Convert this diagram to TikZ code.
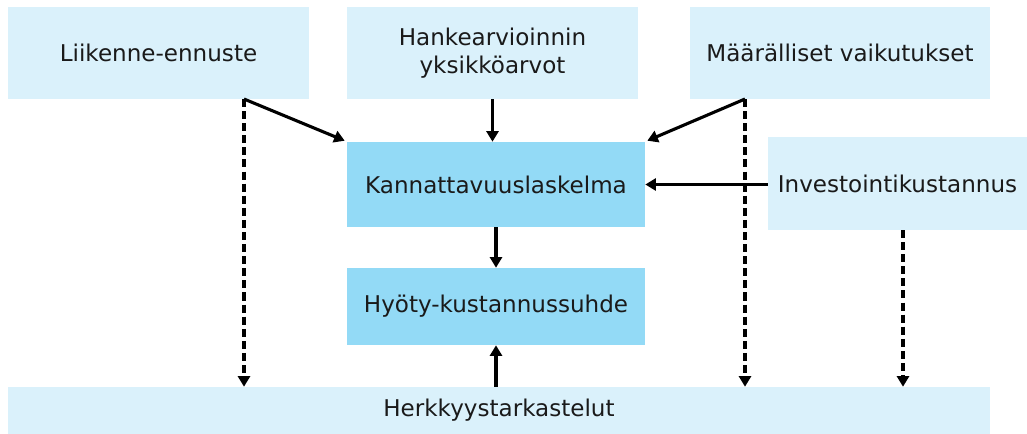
\documentclass[tikz,border=0pt]{standalone}
\usepackage{fontspec}
\setmainfont{DejaVu Sans}
\usetikzlibrary{calc,arrows.meta}
\definecolor{lightbox}{HTML}{DAF1FB}
\definecolor{darkbox}{HTML}{93DAF6}
\definecolor{textgray}{HTML}{1A1A1A}

\begin{document}
\begin{tikzpicture}[x=0.025cm,y=-0.025cm,
        box/.style={fill=lightbox,draw=none,text=textgray,align=center,inner sep=0pt,font=\fontsize{16.4}{19.5}\selectfont},
        mainbox/.style={box,fill=darkbox},
        solidarrow/.style={-{Triangle[width=8.5pt,length=7.5pt]},line width=2.2pt},
        dasharrow/.style={solidarrow,dash pattern=on 5.7pt off 2.9pt}]
        \useasboundingbox (0,0) rectangle (1027,434);
        \node[box,minimum width=7.525cm,minimum height=2.3cm] (liik) at (158.5,53) {Liikenne-ennuste};
        \node[box,minimum width=7.275cm,minimum height=2.3cm] (hank) at (492.5,53) {Hankearvioinnin\\yksikköarvot};
        \node[box,minimum width=7.5cm,minimum height=2.3cm] (maar) at (840,53) {Määrälliset vaikutukset};
        \node[mainbox,minimum width=7.45cm,minimum height=2.125cm] (kann) at (496,184.5) {Kannattavuuslaskelma};
        \node[box,minimum width=6.475cm,minimum height=2.325cm] (inv) at (897.5,183.5) {Investointikustannus};
        \node[mainbox,minimum width=7.45cm,minimum height=1.925cm] (hyot) at (496,306.5) {Hyöty-kustannussuhde};
        \node[box,minimum width=24.55cm,minimum height=1.175cm] (herk) at (499,410.5) {Herkkyystarkastelut};
        \coordinate (lk) at (244,99);
        \coordinate (mk) at (745,99);
        \coordinate (ik) at (903,230);
        \draw[solidarrow] (lk) -- ($(kann.north west)+(-2,-1)$);
        \draw[solidarrow] (mk) -- ($(kann.north east)+(2,-1)$);
        \draw[solidarrow] (hank.south) -- (hank.south |- kann.north);
        \draw[solidarrow] (inv.west |- kann.east) -- (kann.east);
        \draw[solidarrow] (kann.south) -- (hyot.north);
        \draw[solidarrow] (herk.north -| hyot.south) -- (hyot.south);
        \draw[dasharrow] (lk) -- (lk |- herk.north);
        \draw[dasharrow] (mk) -- (mk |- herk.north);
        \draw[dasharrow] (ik) -- (ik |- herk.north);
        \end{tikzpicture}
\end{document}
